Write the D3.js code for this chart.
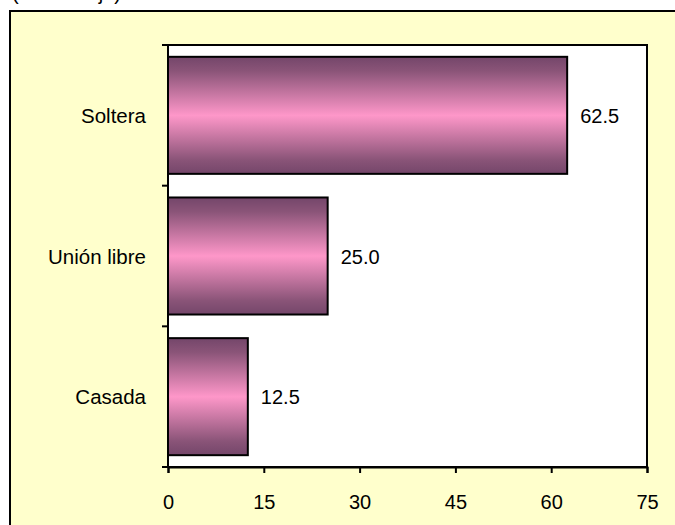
<!DOCTYPE html>
<html>
<head>
<meta charset="utf-8">
<script src="https://cdn.jsdelivr.net/npm/d3@7"></script>
<style>
  html, body { margin: 0; padding: 0; background: #ffffff; }
  svg { display: block; }
  text { font-family: "Liberation Sans", Arial, sans-serif; fill: #000; }
</style>
</head>
<body>
<script>
const categories = ["Soltera", "Unión libre", "Casada"];
const values = [62.5, 25.0, 12.5];
const valueLabels = ["62.5", "25.0", "12.5"];
const xTicks = [0, 15, 30, 45, 60, 75];
const titleText = "(Porcentaje)";

const W = 675, H = 525;
const plot = { left: 168, right: 647, top: 45, bottom: 467 };

const svg = d3.select("body").append("svg").attr("width", W).attr("height", H);

const defs = svg.append("defs");
const grad = defs.append("linearGradient").attr("id", "barGrad")
  .attr("x1", 0).attr("y1", 0).attr("x2", 0).attr("y2", 1);
grad.append("stop").attr("offset", "0%").attr("stop-color", "#74466a");
grad.append("stop").attr("offset", "12%").attr("stop-color", "#8a5478");
grad.append("stop").attr("offset", "50%").attr("stop-color", "#fe97c9");
grad.append("stop").attr("offset", "88%").attr("stop-color", "#8a5478");
grad.append("stop").attr("offset", "100%").attr("stop-color", "#74466a");

// Chart area background
svg.append("rect").attr("x", 10).attr("y", 11).attr("width", 700).attr("height", 560)
  .attr("fill", "#ffffcc").attr("stroke", "#000").attr("stroke-width", 2);

// Cut-off title at top
svg.append("text").attr("x", 12).attr("y", -0.5).attr("font-size", 20).text(titleText);

const x = d3.scaleLinear().domain([0, 75]).range([plot.left, plot.right]);
const pad = 0.168;
const y = d3.scaleBand().domain(categories).range([plot.top, plot.bottom])
  .paddingInner(pad).paddingOuter(pad / 2);

// Plot area
svg.append("rect").attr("x", plot.left).attr("y", plot.top)
  .attr("width", plot.right - plot.left).attr("height", plot.bottom - plot.top)
  .attr("fill", "#ffffff").attr("stroke", "#000").attr("stroke-width", 2);

// Bars
svg.append("g").selectAll("rect").data(categories).join("rect")
  .attr("x", x(0))
  .attr("y", d => y(d))
  .attr("width", (d, i) => x(values[i]) - x(0))
  .attr("height", y.bandwidth())
  .attr("fill", "url(#barGrad)")
  .attr("stroke", "#000").attr("stroke-width", 2);

// Value labels
svg.append("g").selectAll("text").data(categories).join("text")
  .attr("x", (d, i) => x(values[i]) + 13)
  .attr("y", d => y(d) + y.bandwidth() / 2 + 7.5)
  .attr("font-size", 20)
  .text((d, i) => valueLabels[i]);

// X axis
const xAxis = d3.axisBottom(x).tickValues(xTicks).tickSize(6).tickPadding(22).tickFormat(d3.format("d"));
const gx = svg.append("g").attr("transform", `translate(0,${plot.bottom})`).call(xAxis);
gx.select(".domain").attr("stroke", "#000").attr("stroke-width", 2);
gx.selectAll(".tick line").attr("stroke", "#000").attr("stroke-width", 2);
gx.selectAll(".tick text").attr("font-size", 20).attr("font-family", "Liberation Sans, Arial, sans-serif").attr("fill", "#000");

// Y axis with ticks at category boundaries
const step = y.step();
const boundaries = categories.map(c => y(c) - step * pad / 2).concat([plot.bottom]);
const gy = svg.append("g");
gy.append("line").attr("x1", plot.left).attr("x2", plot.left)
  .attr("y1", plot.top).attr("y2", plot.bottom).attr("stroke", "#000").attr("stroke-width", 2);
gy.selectAll("line.tk").data(boundaries).join("line").attr("class", "tk")
  .attr("x1", plot.left - 6).attr("x2", plot.left)
  .attr("y1", d => d).attr("y2", d => d)
  .attr("stroke", "#000").attr("stroke-width", 2);
gy.selectAll("text").data(categories).join("text")
  .attr("x", 146)
  .attr("y", d => y(d) + y.bandwidth() / 2 + 7.5)
  .attr("text-anchor", "end")
  .attr("font-size", 20.5)
  .text(d => d);
</script>
</body>
</html>
